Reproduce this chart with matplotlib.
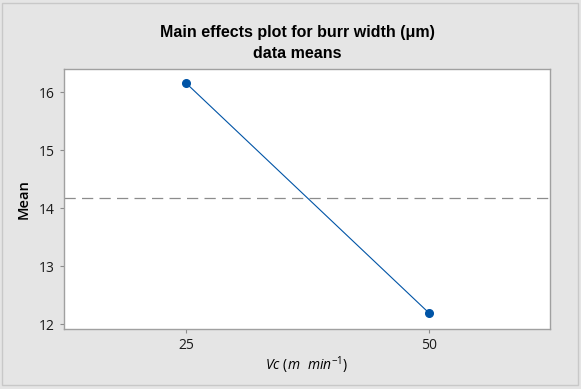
import matplotlib
matplotlib.use("Agg")
import matplotlib.pyplot as plt
from matplotlib.patches import Rectangle

# data
levels = [25, 50]
means = [16.155, 12.19]
grand_mean = 14.17
yticks = [12, 13, 14, 15, 16]

plt.rcParams['font.family'] = ['Open Sans', 'DejaVu Sans']
plt.rcParams['mathtext.fontset'] = 'custom'
plt.rcParams['mathtext.it'] = 'Open Sans:italic'
plt.rcParams['mathtext.rm'] = 'Open Sans'

W, H = 581, 389
fig = plt.figure(figsize=(W / 100, H / 100), dpi=100)
fig.patch.set_facecolor('#e5e5e5')
fig.patches.append(Rectangle((2 / W, 4 / H), 576 / W, 382 / H,
                             transform=fig.transFigure, fill=False,
                             edgecolor='#c8c8c8', linewidth=1))

ax = fig.add_axes([64 / W, 1 - 329 / H, (550 - 64) / W, (329 - 69) / H])
ax.set_facecolor('white')

ax.axhline(grand_mean, color='#8c8c8c', linestyle=(0, (9, 5)), linewidth=0.9)
ax.plot(levels, means, color='#0054a6', linewidth=0.8, marker='o',
        markersize=5.5, markerfacecolor='#0054a6', markeredgecolor='#0054a6')

ax.set_xlim(12.45, 62.45)
ax.set_ylim(11.914, 16.397)
ax.set_xticks(levels)
ax.set_yticks(yticks)
ax.tick_params(labelsize=10, color='#8c8c8c', length=3, width=0.8,
               labelcolor='#1a1a1a')
for sp in ax.spines.values():
    sp.set_color('#a0a0a0')
    sp.set_linewidth(1)

ax.set_ylabel('Mean', fontsize=10.5, fontweight='semibold', labelpad=6)
ax.set_xlabel(r'$Vc\ (m\ \ min^{\mathregular{-1}})$', fontsize=10, labelpad=1)
fig.text(297 / W, 1 - 33 / H, 'Main effects plot for burr width (μm)',
         ha='center', va='center', fontsize=11.5, fontweight='bold',
         family=['Liberation Sans', 'DejaVu Sans'])
fig.text(297 / W, 1 - 53 / H, 'data means', ha='center', va='center',
         fontsize=11.5, fontweight='bold', family=['Liberation Sans', 'DejaVu Sans'])

fig.savefig('out.png', dpi=100, facecolor=fig.get_facecolor())
